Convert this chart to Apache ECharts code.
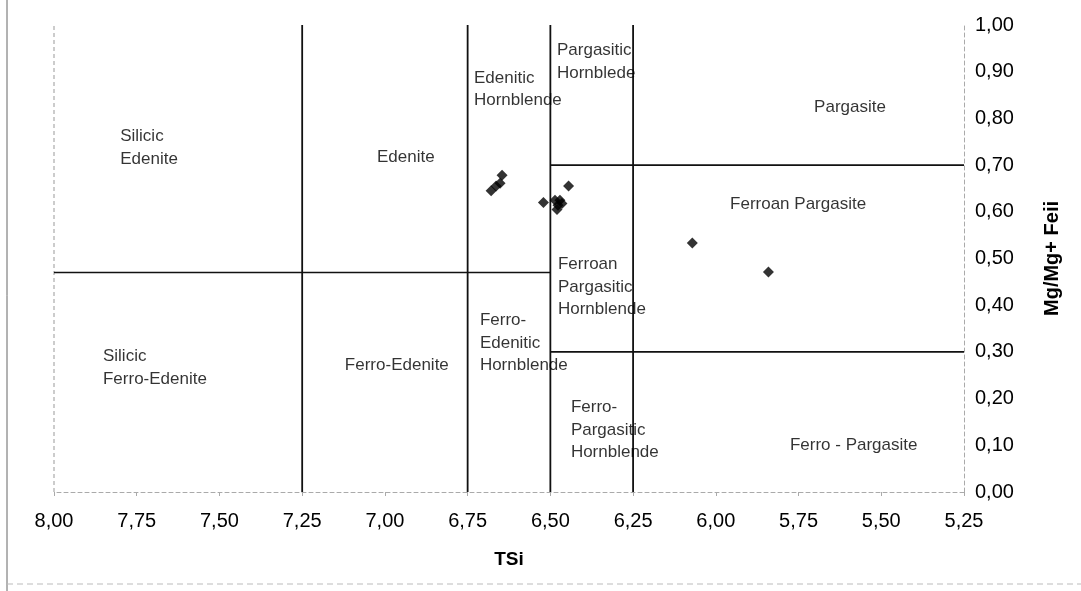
<!DOCTYPE html>
<html>
<head>
<meta charset="utf-8">
<script src="https://cdn.jsdelivr.net/npm/echarts@6/dist/echarts.min.js"></script>
<style>
html,body{margin:0;padding:0;background:#fff;}
#chart{width:1081px;height:591px;}
</style>
</head>
<body>
<div id="chart"></div>
<script>
// ---- data ----
const tsi      = [6.679, 6.664, 6.652, 6.646, 6.521, 6.445, 6.486, 6.471, 6.477, 6.480, 6.465, 6.071, 5.841];
const mgRatio  = [0.645, 0.655, 0.661, 0.678, 0.620, 0.655, 0.625, 0.625, 0.614, 0.605, 0.618, 0.533, 0.471];

const xMin = 5.25, xMax = 8.00, xStep = 0.25;
const yMin = 0, yMax = 1.00, yStep = 0.10;

// field boundaries
const verticalBounds = [7.25, 6.75, 6.50, 6.25];
const hBoundY    = [0.47, 0.70, 0.30];
const hBoundFrom = [8.00, 6.50, 6.50];
const hBoundTo   = [6.50, 5.25, 5.25];

// field names and their anchor (top-left of text) in data coords
const fieldNames = [
  'Silicic\nEdenite', 'Edenite', 'Edenitic\nHornblende', 'Pargasitic\nHornblede',
  'Pargasite', 'Ferroan Pargasite', 'Ferroan\nPargasitic\nHornblende',
  'Ferro-\nEdenitic\nHornblende', 'Ferro-\nPargasitic\nHornblende', 'Ferro - Pargasite',
  'Silicic\nFerro-Edenite', 'Ferro-Edenite'
];
const fieldX = [7.80, 7.024, 6.731, 6.480, 5.703, 5.957, 6.477, 6.713, 6.438, 5.776, 7.852, 7.121];
const fieldY = [0.785, 0.740, 0.911, 0.969, 0.847, 0.640, 0.511, 0.391, 0.205, 0.124, 0.314, 0.295];

// ---- build ----
const fmt = v => v.toFixed(2).replace('.', ',');
const FONT = '"Liberation Sans", Arial, sans-serif';

const series = [];
verticalBounds.forEach(x => series.push({
  type: 'line', data: [[x, yMin], [x, yMax]], symbol: 'none', silent: true,
  lineStyle: { color: '#111', width: 1.8 }, z: 2
}));
hBoundY.forEach((y, i) => series.push({
  type: 'line', data: [[hBoundFrom[i], y], [hBoundTo[i], y]], symbol: 'none', silent: true,
  lineStyle: { color: '#111', width: 1.6 }, z: 2
}));
// faint left frame of plot at x = 8.00
series.push({
  type: 'line', data: [[xMax, yMin], [xMax, yMax]], symbol: 'none', silent: true,
  lineStyle: { color: '#999', width: 1, type: [4, 3] }, z: 1
});
// field names
series.push({
  type: 'scatter', silent: true, symbolSize: 0,
  data: fieldNames.map((n, i) => ({ name: n, value: [fieldX[i], fieldY[i]] })),
  label: {
    show: true, formatter: '{b}', position: [0, 0], align: 'left', verticalAlign: 'top',
    fontFamily: FONT, fontSize: 17, lineHeight: 22.5, color: '#000'
  }, z: 3
});
// samples
series.push({
  type: 'scatter', symbol: 'diamond', symbolSize: 11,
  itemStyle: { color: '#000' },
  data: tsi.map((x, i) => [x, mgRatio[i]]), z: 5
});

const chart = echarts.init(document.getElementById('chart'), null, { renderer: 'canvas' });
chart.setOption({
  animation: false,
  backgroundColor: '#fff',
  grid: { left: 54, right: 117, top: 25, bottom: 99 },
  xAxis: {
    type: 'value', min: xMin, max: xMax, interval: xStep, inverse: true,
    name: 'TSi', nameLocation: 'middle', nameGap: 58,
    nameTextStyle: { fontFamily: FONT, fontSize: 19, fontWeight: 'bold', color: '#000' },
    axisLine: { onZero: false, lineStyle: { color: '#aaa', width: 1, type: [4, 3] } },
    axisTick: { show: true, length: 4, lineStyle: { color: '#aaa' } },
    axisLabel: { formatter: fmt, fontFamily: FONT, fontSize: 20, color: '#000', margin: 19 },
    splitLine: { show: false }
  },
  yAxis: {
    type: 'value', position: 'right', min: yMin, max: yMax, interval: yStep,
    name: 'Mg/Mg+ Feii', nameLocation: 'middle', nameGap: 78, nameRotate: 90,
    nameTextStyle: { fontFamily: FONT, fontSize: 20, fontWeight: 'bold', color: '#000' },
    axisLine: { show: true, lineStyle: { color: '#aaa', width: 1, type: [4, 3] } },
    axisTick: { show: false },
    axisLabel: { formatter: fmt, fontFamily: FONT, fontSize: 20, color: '#000', margin: 11 },
    splitLine: { show: false }
  },
  graphic: [
    { type: 'line', shape: { x1: 7, y1: 0, x2: 7, y2: 591 }, style: { stroke: '#666', lineWidth: 1 } },
    { type: 'line', shape: { x1: 7, y1: 584, x2: 1081, y2: 584 }, style: { stroke: '#bbb', lineWidth: 1, lineDash: [6, 4] } }
  ],
  series: series
});
</script>
</body>
</html>
